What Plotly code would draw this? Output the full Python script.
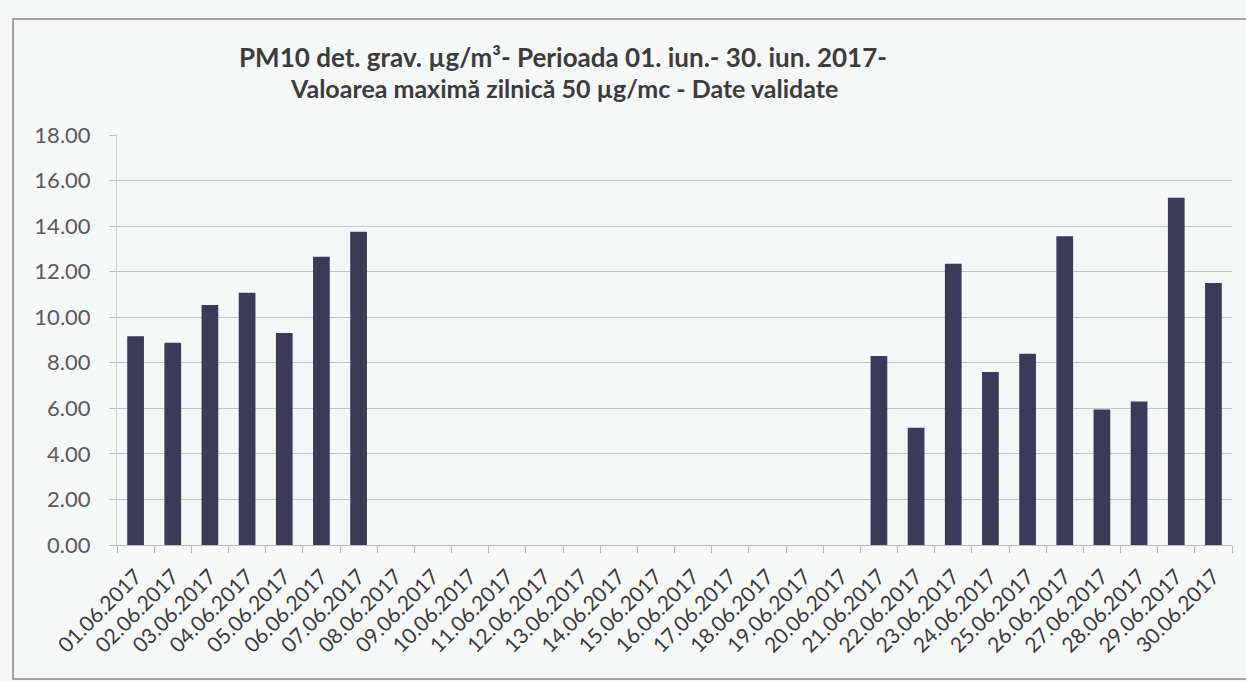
import plotly.graph_objects as go

dates = [f"{d:02d}.06.2017" for d in range(1, 31)]
values = [9.17, 8.88, 10.54, 11.07, 9.31, 12.66, 13.75,
          None, None, None, None, None, None, None, None, None, None, None, None, None,
          8.3, 5.15, 12.35, 7.6, 8.4, 13.55, 5.95, 6.3, 15.25, 11.5]
y_ticks = [0, 2, 4, 6, 8, 10, 12, 14, 16, 18]
title_line1 = "PM10 det. grav. µg/m³- Perioada 01. iun.- 30. iun. 2017-"
title_line2 = "Valoarea maximă zilnică 50 µg/mc - Date validate"

W, H = 1246, 681
L, R, T, B = 117, 14, 135, 136

fig = go.Figure(go.Bar(
    x=dates, y=values,
    marker=dict(color="#3c3a58", line=dict(width=0)),
    width=0.45,
))

def px_x(p):
    return (p - L) / (W - L - R)

def px_y(p):
    return (H - B - p) / (H - T - B)

FONT = "Lato, 'Open Sans', sans-serif"

fig.update_layout(
    width=W, height=H,
    margin=dict(l=L, r=R, t=T, b=B),
    paper_bgcolor="#f6f7f7",
    plot_bgcolor="#f6f7f7",
    showlegend=False,
    font=dict(family=FONT, color="#404040"),
    xaxis=dict(
        type="category",
        tickangle=-45,
        tickfont=dict(size=21, color="#3a3a3a"),
        ticks="outside", ticklen=7, tickcolor="#b0b8c0",
        tickson="boundaries",
        ticklabelstandoff=10,
        showline=True, linecolor="#c0b8c0", linewidth=1,
        showgrid=False,
    ),
    yaxis=dict(
        range=[0, 18], tickvals=y_ticks, tickformat=".2f",
        tickfont=dict(size=22, color="#5a5a5a"),
        ticks="outside", ticklen=7, tickcolor="#b8c0c8",
        ticklabelstandoff=14,
        showgrid=True, gridcolor="#b9c7cf", gridwidth=1,
        showline=True, linecolor="#c8d4d0", linewidth=1,
        zeroline=False,
    ),
    annotations=[
        dict(text="<b>" + title_line1 + "</b>", xref="paper", yref="paper",
             x=px_x(563), y=px_y(57), xanchor="center", yanchor="middle",
             showarrow=False, font=dict(size=26, color="#3c3c3c", family=FONT)),
        dict(text="<b>" + title_line2 + "</b>", xref="paper", yref="paper",
             x=px_x(564), y=px_y(88), xanchor="center", yanchor="middle",
             showarrow=False, font=dict(size=25, color="#3c3c3c", family=FONT)),
    ],
    shapes=[dict(
        type="rect", xref="paper", yref="paper",
        x0=px_x(13), x1=px_x(1262), y0=px_y(679), y1=px_y(19),
        line=dict(color="#8a8a8a", width=1.5), fillcolor="rgba(0,0,0,0)",
        layer="below",
    )],
)

fig.write_html("out.html", config={"displayModeBar": False},
               post_script="document.body.style.margin='0';document.body.style.overflow='hidden';")
